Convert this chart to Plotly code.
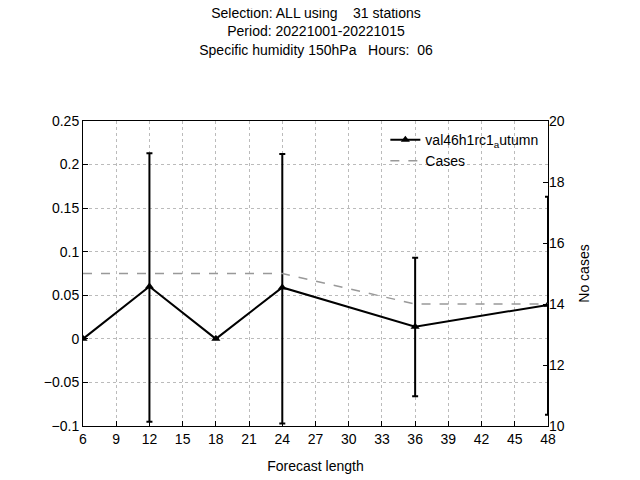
import plotly.graph_objects as go

# Forecast lengths and values
lead = [6, 12, 18, 24, 36, 48]
rmse_diff = [0.0, 0.060, 0.0, 0.059, 0.014, 0.039]
err_up = [0.0, 0.153, 0.0, 0.153, 0.079, 0.124]
err_down = [0.0, 0.155, 0.0, 0.156, 0.080, 0.126]
cases = [15, 15, 15, 15, 14, 14]

title_lines = [
    "Normalized mean RMSE diff (95% conf) vs 43h22<sub>r</sub>ef<sub>a</sub>utumn",
    "Selection: ALL using    31 stations",
    "Period: 20221001-20221015",
    "Specific humidity 150hPa   Hours:  06",
]

fig = go.Figure()
fig.add_trace(go.Scatter(
    x=lead, y=rmse_diff, name="val46h1rc1<sub>a</sub>utumn",
    mode="lines+markers",
    line=dict(color="black", width=2),
    marker=dict(symbol="triangle-up", size=8, color="black"),
    error_y=dict(type="data", symmetric=False, array=err_up, arrayminus=err_down,
                 color="black", thickness=2, width=3),
))
fig.add_trace(go.Scatter(
    x=lead, y=cases, name="Cases", yaxis="y2", mode="lines",
    line=dict(color="#999999", width=1.5, dash="dash"),
))

axis_common = dict(showline=True, linecolor="black", mirror=True, ticks="inside",
                   tickcolor="black", zeroline=False)
fig.update_layout(
    width=640, height=480,
    paper_bgcolor="white", plot_bgcolor="white",
    font=dict(family="Liberation Sans, Arial", size=14, color="black"),
    margin=dict(l=75, r=100, t=113, b=62, autoexpand=False),
    annotations=[dict(
        text="<br>".join(title_lines), xref="paper", yref="paper", x=0.5, y=1.2,
        xanchor="center", yanchor="bottom", showarrow=False, font=dict(size=14))],
    xaxis=dict(range=[6, 48], tickvals=list(range(6, 49, 3)),
               title=dict(text="Forecast length", font=dict(size=14)),
               showgrid=True, gridcolor="#bbbbbb", griddash="dot", **axis_common),
    yaxis=dict(range=[-0.1, 0.25], dtick=0.05, showgrid=True, gridcolor="#bbbbbb",
               griddash="dot", **axis_common),
    yaxis2=dict(range=[10, 20], dtick=2, overlaying="y", side="right",
                title=dict(text="No cases", font=dict(size=14)),
                showgrid=False, ticks="inside", tickcolor="black", zeroline=False),
    legend=dict(x=0.99, y=0.99, xanchor="right", yanchor="top", bgcolor="rgba(255,255,255,0)",
                font=dict(size=14)),
    showlegend=True,
)
fig.write_html("out.html")
